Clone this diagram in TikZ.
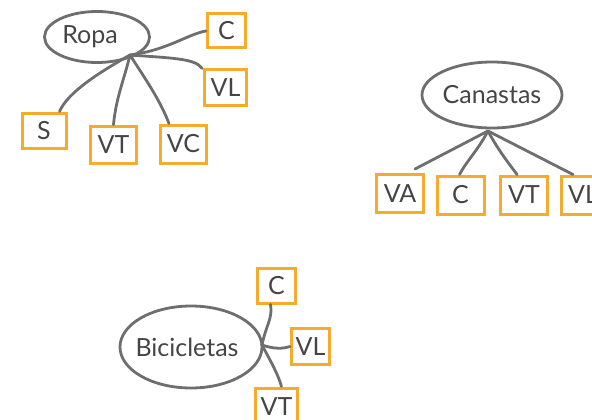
\documentclass[tikz,border=0pt]{standalone}
\usepackage{fontspec}
\setmainfont{Lato}
\usetikzlibrary{shapes.geometric}
\definecolor{ink}{HTML}{454545}
\definecolor{stroke}{HTML}{6E6E6E}
\definecolor{tag}{HTML}{F5AB2C}
\tikzset{
  topic/.style={ellipse, draw=stroke, line width=2.8pt, text=ink, font=\fontsize{25}{27}\selectfont, inner sep=0pt},
  tagbox/.style={rectangle, draw=tag, line width=3pt, text=ink, font=\fontsize{25}{27}\selectfont, inner sep=0pt},
  branch/.style={draw=stroke, line width=2.8pt, line cap=round},
}
\begin{document}
\begin{tikzpicture}[x=1pt,y=-1pt]
\useasboundingbox (0,0) rectangle (592,420);

% Ropa
\node[topic, minimum width=105pt, minimum height=51pt] (ropa) at (97,37) {\hspace*{-14pt}Ropa};
\coordinate (ropahub) at (130,55);
\node[tagbox, minimum width=38pt, minimum height=34pt] (rc) at (226.5,31) {C};
\node[tagbox, minimum width=42pt, minimum height=35pt] (rvl) at (225.5,87.5) {VL};
\node[tagbox, minimum width=44pt, minimum height=35pt] (rs) at (44,130.5) {S};
\node[tagbox, minimum width=46pt, minimum height=37pt] (rvt) at (113.5,144.5) {VT};
\node[tagbox, minimum width=46pt, minimum height=38pt] (rvc) at (183.5,144) {VC};
\draw[branch] (ropahub) .. controls (168,50) and (188,34) .. (rc.west);
\draw[branch] (ropahub) .. controls (168,58) and (196,58) .. ([xshift=-1pt]rvl.north west);
\draw[branch] (ropahub) .. controls (100,72) and (68,92) .. ([xshift=-8pt]rs.north east);
\draw[branch] (ropahub) .. controls (124,80) and (116,98) .. (rvt.north);
\draw[branch] (ropahub) .. controls (146,80) and (160,100) .. ([xshift=10pt]rvc.north west);

% Canastas
\node[topic, minimum width=140pt, minimum height=66pt] (canastas) at (492,95) {Canastas};
\coordinate (canhub) at (488,131);
\node[tagbox, minimum width=47pt, minimum height=38pt] (cva) at (400,193.5) {VA};
\node[tagbox, minimum width=47pt, minimum height=38pt] (cc) at (460.5,195) {C};
\node[tagbox, minimum width=47pt, minimum height=38pt] (cvt) at (524,195) {VT};
\node[tagbox, minimum width=44pt, minimum height=38pt] (cvl) at (583,195) {VL};
\draw[branch] (canhub) -- ([xshift=15pt,yshift=4pt]cva.north);
\draw[branch] (canhub) .. controls (478,150) and (466,162) .. ([xshift=-1pt]cc.north);
\draw[branch] (canhub) .. controls (498,150) and (510,165) .. ([xshift=-7pt]cvt.north);
\draw[branch] (canhub) -- ([xshift=-10pt]cvl.north);

% Bicicletas
\node[topic, minimum width=142pt, minimum height=82pt] (bici) at (191,347) {\hspace*{-8pt}Bicicletas};
\coordinate (bicihub) at (262,345);
\node[tagbox, minimum width=38pt, minimum height=35pt] (bc) at (276.5,285.5) {C};
\node[tagbox, minimum width=38pt, minimum height=36pt] (bvl) at (310.5,346.5) {VL};
\node[tagbox, minimum width=42pt, minimum height=38pt] (bvt) at (276.5,407) {VT};
\draw[branch] (bicihub) .. controls (266,325) and (273,318) .. ([xshift=-6pt]bc.south);
\draw[branch] (bicihub) .. controls (274,349) and (282,349) .. (bvl.west);
\draw[branch] (bicihub) .. controls (270,360) and (278,374) .. ([xshift=5pt]bvt.north);
\end{tikzpicture}
\end{document}
